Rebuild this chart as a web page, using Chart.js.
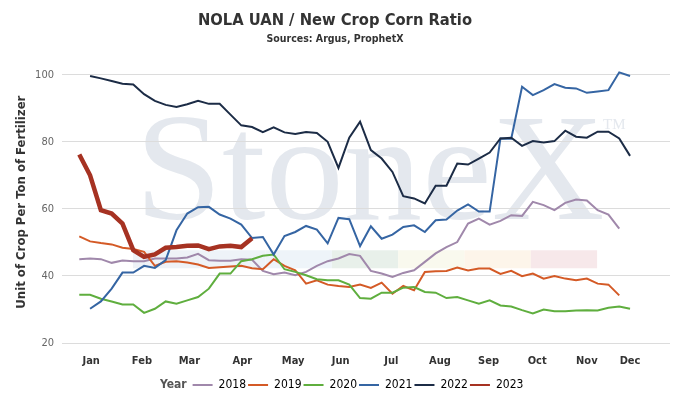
<!DOCTYPE html>
<html>
<head>
<meta charset="utf-8">
<title>NOLA UAN / New Crop Corn Ratio</title>
<script src="https://cdn.jsdelivr.net/npm/chart.js@4.4.1/dist/chart.umd.min.js"></script>
<style>
  html, body { margin: 0; padding: 0; background: #fff; }
  #wrap { width: 683px; height: 410px; }
</style>
</head>
<body>
<div id="wrap"><canvas id="ratioChart"></canvas></div>
<script>
// weekly ratio, week 1..52 of each year
const weeks = [1, 2, 3, 4, 5, 6, 7, 8, 9, 10, 11, 12, 13, 14, 15, 16, 17, 18, 19, 20, 21, 22, 23, 24, 25, 26,
               27, 28, 29, 30, 31, 32, 33, 34, 35, 36, 37, 38, 39, 40, 41, 42, 43, 44, 45, 46, 47, 48, 49, 50, 51, 52];

const y2018 = [45.0, 45.2, 45.0, 43.9, 44.6, 44.4, 44.4, 45.2, 45.2, 45.2, 45.5, 46.6, 44.7, 44.5, 44.5, 45.0, 44.8,
               41.5, 40.5, 41.0, 40.2, 41.2, 43.0, 44.4, 45.2, 46.5, 46.0, 41.5, 40.7, 39.7, 40.9, 41.7, 44.2, 46.7,
               48.6, 50.1, 55.6, 57.1, 55.3, 56.4, 58.1, 57.9, 62.1, 61.1, 59.6, 61.8, 62.8, 62.5, 59.6, 58.3, 54.1, null];
const y2019 = [51.8, 50.3, 49.8, 49.4, 48.4, 48.0, 47.2, 43.0, 44.2, 44.4, 44.0, 43.4, 42.4, 42.6, 42.8, 43.0, 42.3,
               42.0, 45.0, 43.0, 41.7, 37.7, 38.7, 37.4, 37.0, 36.7, 37.4, 36.4, 38.0, 34.7, 37.0, 35.7, 41.2, 41.4,
               41.5, 42.5, 41.6, 42.2, 42.2, 40.6, 41.5, 39.9, 40.7, 39.2, 40.0, 39.2, 38.7, 39.2, 37.7, 37.4, 34.2, null];
const y2020 = [34.4, 34.4, 33.2, 32.4, 31.5, 31.5, 29.0, 30.2, 32.4, 31.7, 32.7, 33.7, 36.2, 40.7, 40.7, 44.4, 45.0,
               46.0, 46.4, 42.0, 41.2, 40.2, 39.0, 38.7, 38.7, 37.4, 33.4, 33.2, 35.0, 35.0, 36.5, 36.7, 35.2, 35.0,
               33.4, 33.7, 32.7, 31.7, 32.7, 31.2, 30.9, 29.8, 28.8, 30.0, 29.5, 29.5, 29.7, 29.8, 29.7, 30.5, 30.9, 30.2];
const y2021 = [null, 30.2, 32.4, 36.2, 41.0, 41.0, 43.0, 42.4, 44.7, 53.6, 58.6, 60.5, 60.6, 58.3, 57.1, 55.3, 51.3,
               51.6, 46.4, 51.9, 53.1, 54.9, 53.8, 49.7, 57.3, 56.9, 48.9, 54.8, 51.1, 52.3, 54.6, 55.1, 53.1, 56.6,
               56.8, 59.5, 61.3, 59.2, 59.2, 81.0, 80.9, 96.4, 93.9, 95.4, 97.2, 96.1, 95.9, 94.6, 95.0, 95.4, 100.7, 99.6];
const y2022 = [null, 99.6, 98.9, 98.1, 97.3, 97.1, 94.2, 92.2, 91.0, 90.4, 91.2, 92.2, 91.3, 91.3, 88.1, 84.9, 84.4,
               82.9, 84.3, 82.8, 82.3, 82.9, 82.6, 80.0, 72.2, 81.2, 86.0, 77.5, 75.0, 71.0, 63.8, 63.1, 61.6, 66.9,
               66.9, 73.5, 73.2, 75.0, 76.8, 81.0, 81.2, 78.8, 80.2, 79.8, 80.2, 83.3, 81.5, 81.2, 83.0, 83.0, 81.0, 75.8];
const y2023 = [76.2, 70.0, 59.6, 58.6, 55.6, 47.7, 45.7, 46.4, 48.4, 48.6, 49.0, 49.1, 48.0, 48.8, 49.0, 48.6, 51.2];

const years = ['2018', '2019', '2020', '2021', '2022', '2023'];
const yearValues = [y2018, y2019, y2020, y2021, y2022, y2023];
const yearColors = ['#a088ab', '#d45a26', '#5fae3e', '#3565a3', '#1c2c46', '#a63222'];

// month names sit in the middle of each month (in week units)
const monthNames = ['Jan', 'Feb', 'Mar', 'Apr', 'May', 'Jun', 'Jul', 'Aug', 'Sep', 'Oct', 'Nov', 'Dec'];
const monthWeeks = [2.1, 6.8, 11.2, 16.1, 20.8, 25.2, 29.9, 34.4, 38.9, 43.4, 48.0, 52.0];
const yTicks = [20, 40, 60, 80, 100];

const uiFont = '"DejaVu Sans Condensed", "DejaVu Sans", Verdana, sans-serif';

// grey StoneX logo behind the plot
const watermark = {
  id: 'watermark',
  beforeDraw(chart) {
    const { ctx, chartArea: a } = chart;
    ctx.save();
    ctx.fillStyle = '#e4e8ee';
    ctx.textBaseline = 'alphabetic';
    ctx.font = '152px "Liberation Serif", "DejaVu Serif", serif';
    ctx.save();
    ctx.translate(a.left + 73, a.top + 158);
    ctx.scale(1.03, 1);
    ctx.fillText('StoneX', 0, 0);
    ctx.restore();
    ctx.font = '15px "Liberation Serif", serif';
    ctx.fillText('TM', a.left + 541, a.top + 68);
    const bands = ['#eef2f7', '#eef3f8', '#eef4f9', '#e8f0ea', '#f9f9ee', '#fdf5ea', '#f7e8ea'];
    bands.forEach((c, i) => {
      ctx.fillStyle = c;
      ctx.fillRect(a.left + 71 + i * 66.3, a.top + 189, 66.3, 18);
    });
    ctx.restore();
  }
};

// "Year" label in front of the legend items
const legendYear = {
  id: 'legendYear',
  afterLayout(chart) {
    chart.legend.left += 46;
  },
  afterDraw(chart) {
    const boxes = chart.legend.legendHitBoxes;
    if (!boxes || !boxes.length) return;
    const b = boxes[0];
    const ctx = chart.ctx;
    ctx.save();
    ctx.font = 'bold 12px ' + uiFont;
    ctx.fillStyle = '#555';
    ctx.textAlign = 'right';
    ctx.textBaseline = 'middle';
    ctx.fillText('Year', b.left - 6, b.top + b.height / 2);
    ctx.restore();
  }
};

const datasets = years.map((label, i) => ({
  label: label,
  data: weeks.slice(0, yearValues[i].length).map((w, j) => ({ x: w, y: yearValues[i][j] })),
  borderColor: yearColors[i],
  backgroundColor: yearColors[i],
  borderWidth: label === '2023' ? 4.5 : 2,
  pointRadius: 0,
  tension: 0,
  spanGaps: false,
  order: years.length - i
}));

const ctx = document.getElementById('ratioChart').getContext('2d');
const ratioChart = new Chart(ctx, {
  type: 'line',
  data: { datasets: datasets },
  options: {
    responsive: true,
    maintainAspectRatio: false,
    animation: false,
    layout: { padding: { left: 0, right: 13, top: 0, bottom: 9 } },
    plugins: {
      title: {
        display: true,
        text: 'NOLA UAN / New Crop Corn Ratio',
        color: '#333',
        font: { family: uiFont, size: 16.4, weight: 'bold' },
        padding: { top: 11, bottom: 2 }
      },
      subtitle: {
        display: true,
        text: 'Sources: Argus, ProphetX',
        color: '#333',
        font: { family: uiFont, size: 10.5, weight: 'bold' },
        padding: { top: 0, bottom: 16 }
      },
      legend: {
        position: 'bottom',
        labels: {
          boxWidth: 20,
          boxHeight: 2,
          padding: 2,
          color: '#555',
          font: { family: uiFont, size: 12 },
          generateLabels: chart => chart.data.datasets.map((ds, i) => ({
            text: ds.label,
            fillStyle: ds.borderColor,
            strokeStyle: ds.borderColor,
            lineWidth: 0,
            hidden: !chart.isDatasetVisible(i),
            datasetIndex: i
          }))
        }
      },
      tooltip: { enabled: false }
    },
    scales: {
      x: {
        type: 'linear',
        display: false,
        min: -0.6,
        max: 55.7
      },
      month: {
        type: 'linear',
        position: 'bottom',
        min: -0.6,
        max: 55.7,
        grid: { display: false, drawTicks: false },
        border: { display: false },
        afterBuildTicks: scale => { scale.ticks = monthWeeks.map(v => ({ value: v })); },
        afterFit: scale => { scale.height = 34; },
        ticks: {
          autoSkip: false,
          maxRotation: 0,
          padding: 12,
          color: '#333',
          font: { family: uiFont, size: 11, weight: 'bold' },
          callback: (value, index) => monthNames[index]
        }
      },
      y: {
        min: 20,
        max: 104,
        afterBuildTicks: scale => { scale.ticks = yTicks.map(v => ({ value: v })); },
        afterFit: scale => { scale.width = 62; },
        grid: { color: '#dcdcdc', lineWidth: 1, drawTicks: false },
        border: { display: false },
        ticks: {
          padding: 8,
          color: '#666',
          font: { family: uiFont, size: 11 }
        },
        title: {
          display: true,
          text: 'Unit of Crop Per Ton of Fertilizer',
          color: '#333',
          font: { family: uiFont, size: 13, weight: 'bold' },
          padding: { top: 14, bottom: 0 }
        }
      }
    }
  },
  plugins: [watermark, legendYear]
});
</script>
</body>
</html>
